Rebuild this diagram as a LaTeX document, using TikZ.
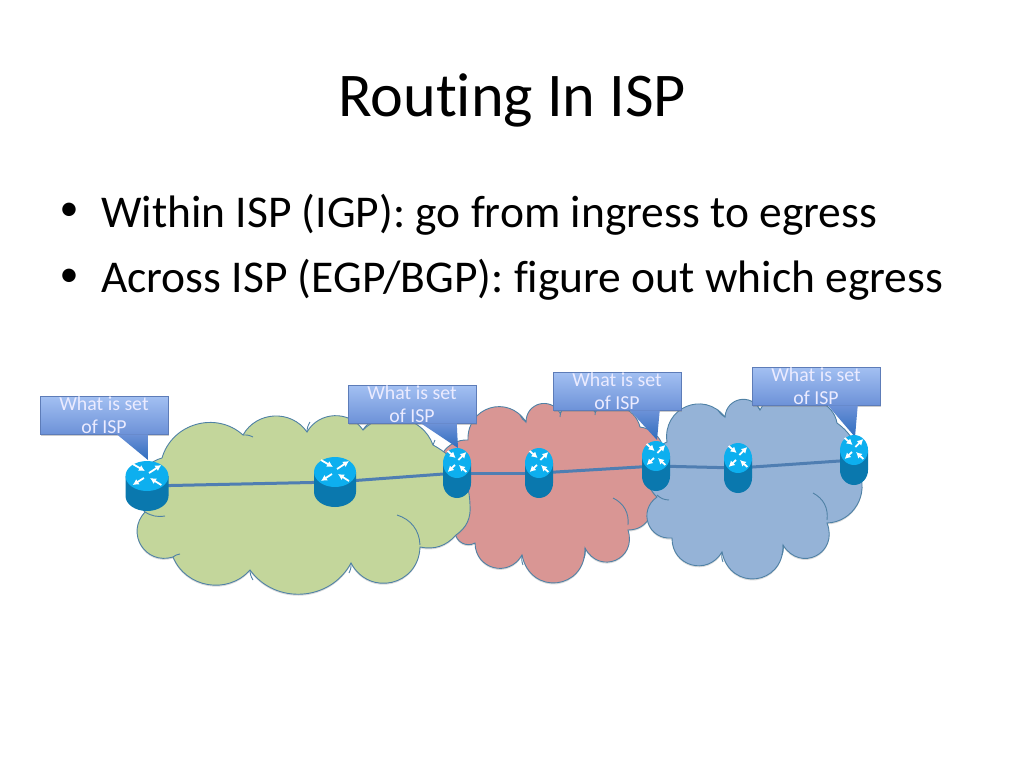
\documentclass[tikz,border=0pt]{standalone}
\usepackage{fontspec}
\setmainfont[Ligatures=CommonOff]{Carlito}
\usetikzlibrary{calc,arrows.meta}
\definecolor{greencloud}{HTML}{C3D69B}
\definecolor{redcloud}{HTML}{D99694}
\definecolor{bluecloud}{HTML}{95B3D7}
\definecolor{cloudline}{HTML}{4F81A5}
\definecolor{linkblue}{HTML}{4F7EB2}
\definecolor{routertop}{HTML}{0DAFEF}
\definecolor{routerbody}{HTML}{0A78AE}
\definecolor{calltop}{HTML}{A3C0F2}
\definecolor{callbottom}{HTML}{6D92D8}
\definecolor{tailbottom}{HTML}{2F6DBE}
\tikzset{
	cloud/.style={draw=cloudline, line width=0.9pt, preaction={fill=black!40, opacity=0.35, transform canvas={shift={(0pt,-1.5pt)}}}},
	flatbump/.style={bend left=30},
	bump/.style={bend left=58, looseness=1.1},
	midbump/.style={bend left=75, looseness=1.4},
	deepbump/.style={bend left=85, looseness=1.7},
	wrinkle/.style={draw=cloudline, line width=0.9pt},
	link/.style={color=linkblue, line width=3pt},
	routernode/.style={inner sep=0pt, minimum width=#1pt, minimum height=50pt},
	routerarrow/.style={color=white, line width=1.8pt, -{Latex[length=6pt,width=6.5pt]}},
	callout/.style={draw=callbottom!85!black, line width=0.5pt, top color=calltop, bottom color=callbottom, inner sep=0pt, minimum width=128pt, minimum height=38pt, preaction={fill=black!50, opacity=0.4, transform canvas={shift={(1pt,-1.5pt)}}}},
	calltext/.style={align=center, inner sep=0pt, text=white!92!blue, font=\fontsize{19.8}{23.5}\selectfont},
	calltail/.style={top color=callbottom, bottom color=tailbottom},
	title/.style={font=\fontsize{62.2}{70}\selectfont},
	bullettext/.style={anchor=west, inner sep=0pt, font=\fontsize{45.5}{54}\selectfont},
	bulletmark/.style={inner sep=0pt, font=\fontsize{38}{44}\selectfont}
}
\def\routerpic(#1,#2,#3){
	\begin{scope}[shift={(#1,#2)}, xscale=#3/21]
		\fill[routerbody] (-21,-10) -- (-21,10) arc[start angle=180, end angle=360, x radius=21pt, y radius=15pt] -- (21,-10) -- cycle;
		\fill[routertop] (0,-10) ellipse[x radius=21pt, y radius=15pt];
		\draw[routerarrow] (-14,-22) -- (-2,-15);
		\draw[routerarrow] (2,-13) -- (14,-21);
		\draw[routerarrow] (-3,-8) -- (-14,-1);
		\draw[routerarrow] (14,-1) -- (3,-8);
	\end{scope}
}
\begin{document}
\begin{tikzpicture}[x=1pt, y=-1pt]
	\useasboundingbox (0,0) rectangle (1024,768);
	%%%%% TEXT %%%%%
	\node[title] (heading) at (512,100) {Routing In ISP};
	\node[bulletmark] (bulletone) at (69,212) {•};
	\node[bullettext] (lineone) at (101,215) {Within ISP (IGP): go from ingress to egress};
	\node[bulletmark] (bullettwo) at (69,278) {•};
	\node[bullettext] (linetwo) at (101,280) {Across ISP (EGP/BGP): figure out which egress};

	%%%%% CLOUDS %%%%%
	\draw[cloud, fill=redcloud] (468,440) to[midbump] (526,422) to[midbump] (560,413) to[bump] (595,412) to[bump] (640,427) to[bump] (660,470) to[bump] (650,517) to[flatbump] (628,530) to[deepbump] (585,548) to[deepbump] (522,555) to[midbump] (475,543) to[bump] (455,532) to[bump] (440,480) to[bump] cycle;
	\draw[wrinkle] (613,498) to[bend left=35] (628,525);
	\draw[wrinkle] (526,422) to[bend left=15] (520,415);
	\draw[wrinkle] (560,417) to[bend left=15] (562,410);
	\draw[wrinkle] (595,415) to[bend left=15] (597,408);
	\draw[wrinkle] (585,548) to[bend left=15] (584,558);
	\draw[wrinkle] (522,555) to[bend right=15] (523,565);

	\draw[cloud, fill=greencloud] (162,458) to[bump] (243,435) to[bump] (307,432) to[bump] (363,430) to[bump] (433,445) to[flatbump] (470,505) to[flatbump] (456,535) to[flatbump] (420,547) to[midbump] (351,563) to[bump] (250,570) to[bump] (173,557) to[midbump] (145,512) to[bump] cycle;
	\draw[wrinkle] (397,515) to[bend left=35] (420,545);
	\draw[wrinkle] (145,512) to[bend right=20] (165,516);
	\draw[wrinkle] (351,563) to[bend left=15] (349,573);
	\draw[wrinkle] (250,570) to[bend right=15] (253,580);
	\draw[wrinkle] (173,557) to[bend left=15] (180,554);
	\draw[wrinkle] (243,435) to[bend left=15] (253,437);
	\draw[wrinkle] (307,432) to[bend left=15] (310,422);
	\draw[wrinkle] (363,430) to[bend left=15] (370,423);
	\draw[wrinkle] (433,445) to[bend left=15] (435,440);

	\draw[cloud, fill=bluecloud] (667,442) to[midbump] (725,417) to[midbump] (760,410) to[bump] (793,405) to[bump] (837,423) to[flatbump] (858,470) to[bump] (827,523) to[deepbump] (783,545) to[deepbump] (722,552) to[midbump] (672,538) to[midbump] (657,497) to[bump] cycle;
	\draw[wrinkle] (813,493) to[bend left=35] (827,520);
	\draw[wrinkle] (657,495) to[bend right=20] (669,500);
	\draw[wrinkle] (783,545) to[bend left=15] (782,555);
	\draw[wrinkle] (722,552) to[bend right=15] (723,562);
	\draw[wrinkle] (725,417) to[bend left=15] (718,410);
	\draw[wrinkle] (760,410) to[bend left=15] (757,405);

	%%%%% CALLOUTS %%%%%
	\node[callout, label={[calltext]center:{What is set\\of ISP}}] (setone) at (104,415) {};
	\node[callout, label={[calltext]center:{What is set\\of ISP}}] (settwo) at (412,404) {};
	\node[callout, label={[calltext]center:{What is set\\of ISP}}] (setthree) at (617,391) {};
	\node[callout, label={[calltext]center:{What is set\\of ISP}}] (setfour) at (816,386) {};

	\coordinate (tipone) at (148,460);
	\coordinate (tiptwo) at (458,448);
	\coordinate (tipthree) at (657,440);
	\coordinate (tipfour) at (855,437);
	\shade[calltail] ($(setone.south west)+(77,0)$) -- (tipone) -- ($(setone.south west)+(108,0)$) -- cycle;
	\shade[calltail] ($(settwo.south west)+(73,0)$) -- (tiptwo) -- ($(settwo.south west)+(109,0)$) -- cycle;
	\shade[calltail] ($(setthree.south west)+(77,0)$) -- (tipthree) -- ($(setthree.south west)+(107,0)$) -- cycle;
	\shade[calltail] ($(setfour.south west)+(76,0)$) -- (tipfour) -- ($(setfour.south west)+(106,0)$) -- cycle;

	%%%%% ROUTERS %%%%%
	\foreach \name/\x/\y/\w in {rone/147/486/43, rtwo/335/482/42, rthree/457/473/28, rfour/539/473/28, rfive/656/466/28, rsix/738/468/28, rseven/854/460/28}
		\node[routernode=\w] (\name) at (\x,\y) {};

	\draw[link] (rone.center) -- (rtwo.center);
	\draw[link] (rtwo.center) -- (rthree.center);
	\draw[link] (rthree.center) -- (rfour.center);
	\draw[link] (rfour.center) -- (rfive.center);
	\draw[link] (rfive.center) -- (rsix.center);
	\draw[link] (rsix.center) -- (rseven.center);

	\routerpic(147,486,21.5)
	\routerpic(335,482,21)
	\routerpic(457,473,14)
	\routerpic(539,473,14)
	\routerpic(656,466,14)
	\routerpic(738,468,14)
	\routerpic(854,460,14)
\end{tikzpicture}
\end{document}
